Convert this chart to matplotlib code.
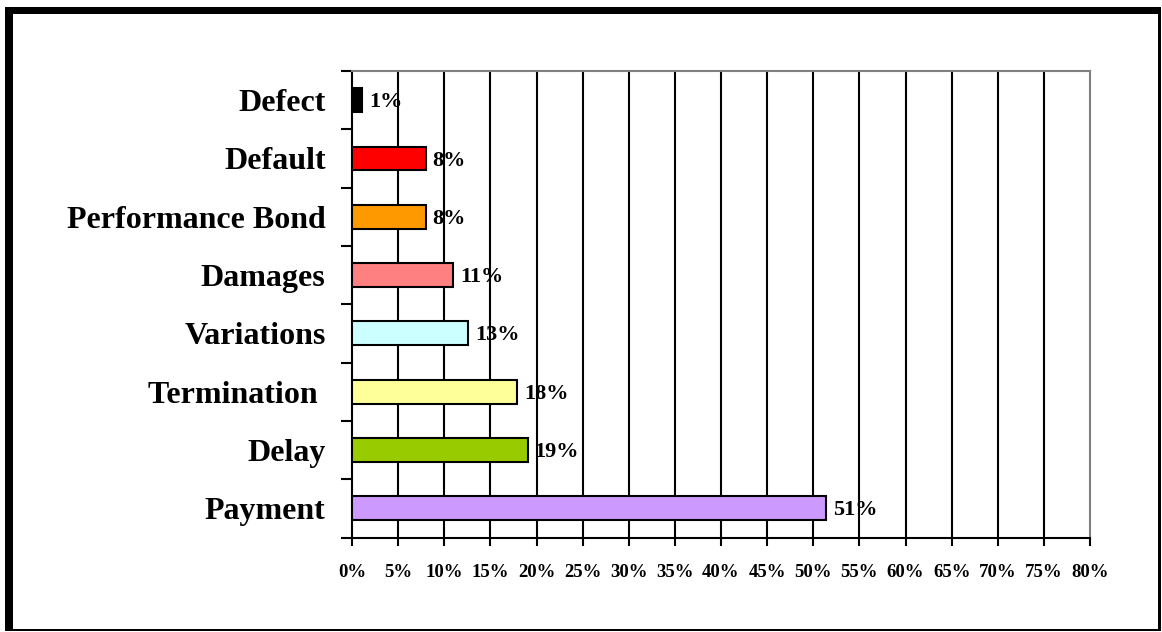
import matplotlib
matplotlib.use("Agg")
import matplotlib.pyplot as plt
from matplotlib.patches import Rectangle
import numpy as np

categories = ["Payment", "Delay", "Termination ", "Variations", "Damages",
              "Performance Bond", "Default", "Defect"]
values = [51.35, 19.05, 17.9, 12.6, 11.0, 8.0, 8.0, 1.1]
value_labels = ["51%", "19%", "18%", "13%", "11%", "8%", "8%", "1%"]
colors = ["#CC99FF", "#99CC00", "#FFFF99", "#CCFFFF", "#FF8080",
          "#FF9900", "#FF0000", "#000000"]
xticks = list(range(0, 81, 5))
xtick_labels = [f"{t}%" for t in xticks]

W, H = 1162, 632
fig = plt.figure(figsize=(W / 100, H / 100), dpi=100)
fig.patch.set_facecolor("white")

def px_rect(x0, y0, x1, y1):
    fig.add_artist(Rectangle((x0 / W, 1 - y1 / H), (x1 - x0) / W, (y1 - y0) / H,
                             transform=fig.transFigure, facecolor="black",
                             edgecolor="none", zorder=10))

# outer frame: thick left/top, thin right/bottom
px_rect(5, 7, 13.3, 631)
px_rect(5, 7, 1161, 14.3)
px_rect(1158.3, 7, 1160.7, 631)
px_rect(5, 629, 1160.7, 631)

left, right, top, bottom = 352, 1090, 71, 537.5
ax = fig.add_axes([left / W, 1 - bottom / H, (right - left) / W, (bottom - top) / H])

serif = ["Liberation Serif", "DejaVu Serif"]
y = np.arange(len(categories))
ax.barh(y, values, height=0.41, color=colors, edgecolor="black", linewidth=1.5, zorder=3)

for yi, v, lab in zip(y, values, value_labels):
    ax.annotate(lab, (v, yi), xytext=(5, -1.5), textcoords="offset points",
                ha="left", va="center", fontsize=16, fontweight="bold",
                family=serif, zorder=4)

ax.set_xlim(0, 80)
ax.set_ylim(-0.5, len(categories) - 0.5)

ax.set_xticks(xticks)
ax.set_xticklabels(xtick_labels, fontsize=13.5, fontweight="bold", family=serif)
ax.tick_params(axis="x", direction="out", length=6, width=1.5, pad=13, color="black")

ax.set_yticks(y)
ax.set_yticklabels(categories, fontsize=23, fontweight="bold", family=serif)
ax.set_yticks(np.arange(-0.5, len(categories), 1.0), minor=True)
ax.tick_params(axis="y", which="major", length=0, pad=19)
ax.tick_params(axis="y", which="minor", direction="out", length=8, width=1.5, color="black")

for xv in xticks[1:-1]:
    ax.axvline(xv, color="black", linewidth=1.5, zorder=1)

ax.spines["left"].set_color("black")
ax.spines["left"].set_linewidth(1.5)
ax.spines["bottom"].set_color("black")
ax.spines["bottom"].set_linewidth(1.5)
ax.spines["top"].set_color("#808080")
ax.spines["top"].set_linewidth(1.5)
ax.spines["right"].set_color("#808080")
ax.spines["right"].set_linewidth(1.5)

fig.savefig("out.png", dpi=100, facecolor="white")
